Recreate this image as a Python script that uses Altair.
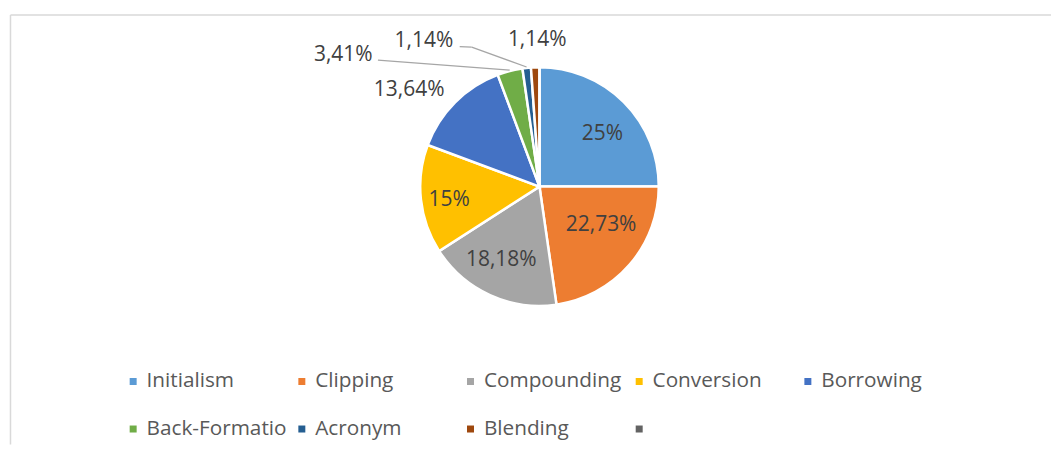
import altair as alt
import pandas as pd

# ---- data ----
CATEGORIES = ["Initialism", "Clipping", "Compounding", "Conversion", "Borrowing",
              "Back-Formation", "Acronym", "Blending", " "]
SHARES = [25.0, 22.73, 18.18, 14.77, 13.64, 3.41, 1.14, 1.14, 0.0]
LABELS = ["25%", "22,73%", "18,18%", "15%", "13,64%", "3,41%", "1,14%", "1,14%", ""]
COLORS = ["#5B9BD5", "#ED7D31", "#A5A5A5", "#FFC000", "#4472C4",
          "#70AD47", "#255E91", "#9E480E", "#636363"]

# ---- layout / style (not data) ----
W, H = 1043, 431
CX, CY, R = 530.5, 172.5, 119.5
R_LABEL = 85
FONT = "Open Sans"
LABEL_NUDGE = {  # per-label offset (px) from the label anchor on the mid-angle
    "Initialism": (R_LABEL, 3, 7),
    "Clipping": (R_LABEL, -2.5, -17),
    "Compounding": (R_LABEL, -3, -4),
    "Conversion": (R_LABEL, -6, 4.5),
    "Borrowing": (R, -46, -12),
    "Back-Formation": (R, -167, -16),
    "Acronym": (R, -103, -27),
    "Blending": (R, 2, -27),
}

df = pd.DataFrame({"cat": CATEGORIES, "share": SHARES, "label": LABELS,
                   "idx": list(range(len(CATEGORIES)))})

base = alt.Chart(df)
theta = alt.Theta("share:Q", stack=True)
order = alt.Order("idx:Q", sort="ascending")

pie = base.mark_arc(outerRadius=R, stroke="white", strokeWidth=2.5).encode(
    theta=theta,
    order=order,
    color=alt.Color(
        "cat:N", sort=CATEGORIES,
        scale=alt.Scale(domain=CATEGORIES, range=COLORS),
        legend=alt.Legend(
            title=None, orient="none", legendX=113, legendY=357,
            direction="horizontal", columns=5, gridAlign="all",
            symbolType="square", symbolSize=49, symbolStrokeWidth=0,
            labelFont=FONT, labelFontSize=20.8, labelColor="#595959",
            labelOffset=3, columnPadding=4, rowPadding=26, labelLimit=300,
            labelExpr="datum.label == 'Back-Formation' ? 'Back-Formatio' : datum.label",
        ),
    ),
    x=alt.value(CX), y=alt.value(CY),
)

texts = []
for cat, (rad, ndx, ndy) in LABEL_NUDGE.items():
    texts.append(
        base.mark_text(radius=rad, dx=ndx, dy=ndy, font=FONT, fontSize=21,
                       color="#404040", align="center", baseline="middle").encode(
            theta=theta,
            order=order,
            text=alt.condition(alt.datum.cat == cat, "label:N", alt.value("")),
            x=alt.value(CX), y=alt.value(CY),
        )
    )

edge = base.transform_joinaggregate(total="sum(share)").transform_window(
    cum="sum(share)", sort=[alt.SortField("idx", order="ascending")],
    frame=[None, 0],
).transform_calculate(
    mid="(datum.cum - datum.share / 2) / datum.total * 2 * PI",
    ex=f"{CX} + {R + 1} * sin(datum.mid)",
    ey=f"{CY} - {R + 1} * cos(datum.mid)",
)

LEADER = [  # (category, start offset, end offset) relative to slice edge point
    ("Back-Formation", (0, 0), (-132, -10)),
    ("Acronym", (0, 0), (-55, -20)),
    ("Acronym", (-55, -20), (-67, -20.5)),
]
lines = []
for cat, (ax, ay), (bx, by) in LEADER:
    lines.append(
        edge.transform_filter(alt.datum.cat == cat).transform_calculate(
            x1=f"datum.ex + {ax}", y1=f"datum.ey + {ay}",
            x2=f"datum.ex + {bx}", y2=f"datum.ey + {by}",
        ).mark_rule(color="#A6A6A6", strokeWidth=1.3).encode(
            x=alt.X("x1:Q", scale=None, axis=None),
            y=alt.Y("y1:Q", scale=None, axis=None),
            x2="x2:Q", y2="y2:Q",
        )
    )

frame_data = alt.Data(values=[{"k": 1}])
frame_top = alt.Chart(frame_data).mark_rule(color="#D9D9D9", strokeWidth=1.5).encode(
    x=alt.value(0.5), x2=alt.value(W), y=alt.value(0.5))
frame_left = alt.Chart(frame_data).mark_rule(color="#D9D9D9", strokeWidth=1.5).encode(
    x=alt.value(0.5), y=alt.value(0.5), y2=alt.value(H))

chart = alt.layer(pie, *lines, *texts, frame_top, frame_left).properties(
    width=W, height=H,
    padding={"left": 1, "top": 5, "right": 0, "bottom": 0},
).configure_view(stroke=None)

chart.save("out.html", embed_options={"renderer": "svg", "actions": False})
